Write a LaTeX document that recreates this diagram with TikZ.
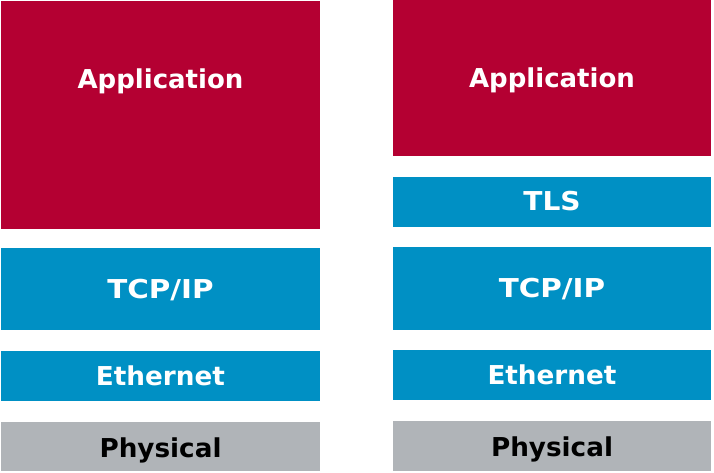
\documentclass[tikz,border=0pt]{standalone}
\usepackage{graphicx}
\usepackage{fontspec}
\setmainfont{DejaVu Sans}
\definecolor{appred}{HTML}{B40032}
\definecolor{netblue}{HTML}{0090C4}
\definecolor{physgray}{HTML}{B0B4B8}
\begin{document}
\begin{tikzpicture}[x=1pt,y=-1pt,
  lbl/.style={font=\bfseries\fontsize{26}{30}\selectfont, text=white, inner sep=0pt, anchor=base},
  dlbl/.style={font=\bfseries\fontsize{26}{30}\selectfont, text=black, inner sep=0pt, anchor=base}]
\useasboundingbox (0,0) rectangle (714,472);
% left stack
\fill[appred] (1,1) rectangle (320,229);
\node[lbl] (la) at (160.5,88) {Application};
\fill[netblue] (1,248) rectangle (320,330);
\node[lbl] (lt) at (160.5,298.5) {\scalebox{1.13}[1]{TCP/IP}};
\fill[netblue] (1,351) rectangle (320,401);
\node[lbl] (le) at (160.5,385) {\scalebox{1.01}[1]{Ethernet}};
\fill[physgray] (1,422) rectangle (320,471);
\node[dlbl] (lp) at (160.5,457) {\scalebox{1.01}[1]{Physical}};
% right stack
\fill[appred] (393,0) rectangle (711,156);
\node[lbl] (ra) at (552,87) {Application};
\fill[netblue] (393,177) rectangle (711,227);
\node[lbl] (rtls) at (552,210) {\scalebox{1.08}[1]{TLS}};
\fill[netblue] (393,247) rectangle (711,330);
\node[lbl] (rt) at (552,297.5) {\scalebox{1.13}[1]{TCP/IP}};
\fill[netblue] (393,350) rectangle (711,400);
\node[lbl] (re) at (552,384) {\scalebox{1.01}[1]{Ethernet}};
\fill[physgray] (393,421) rectangle (711,471);
\node[dlbl] (rp) at (552,456) {\scalebox{1.01}[1]{Physical}};
\end{tikzpicture}
\end{document}
